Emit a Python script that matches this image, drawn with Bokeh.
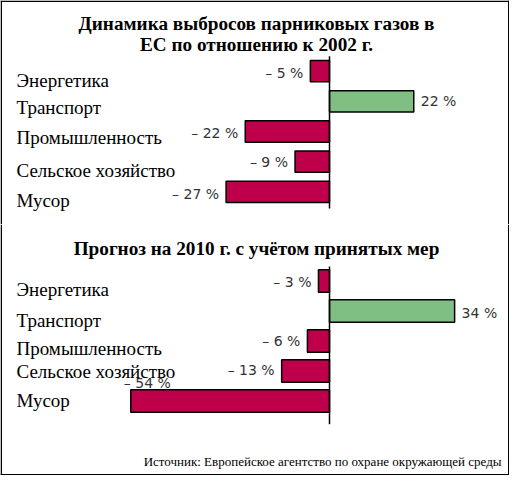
from bokeh.plotting import figure
from bokeh.models import ColumnDataSource, Range1d, Label, Span
from bokeh.layouts import column
from bokeh.embed import file_html
from bokeh.resources import INLINE
from bokeh.core.properties import value

# ---------------- data ----------------
categories = ["Энергетика", "Транспорт", "Промышленность", "Сельское хозяйство", "Мусор"]
change_2002 = [-5, 22, -22, -9, -27]        # % change vs 2002
forecast_2010 = [-3, 34, -6, -13, -54]      # % forecast for 2010
title_2002 = ["Динамика выбросов парниковых газов в", "ЕС по отношению к 2002 г."]
title_2010 = ["Прогноз на 2010 г. с учётом принятых мер"]
source_text = "Источник: Европейское агентство по охране окружающей среды"

# ---------------- style ----------------
RED = "#BE004A"
GREEN = "#80BF84"
W = 509
SERIF = "Liberation Serif"
SANS = "DejaVu Sans"


def fmt(v):
    return f"– {abs(v)} %" if v < 0 else f"{v} %"


def panel(values, height, zero_px, px_pct, first_px, row_px, bar_px,
          axis_px, titles, cat_dy, val_dy, val_above, borders):
    n = len(values)
    x0 = -zero_px / px_pct
    x1 = (W - zero_px) / px_pct
    y_top = -first_px / row_px
    y_bot = y_top + height / row_px
    p = figure(width=W, height=height, x_range=Range1d(x0, x1),
               y_range=Range1d(y_bot, y_top),
               x_axis_location=None, y_axis_location=None,
               min_border=0, toolbar_location=None, output_backend="svg",
               outline_line_color=None, background_fill_color="white",
               border_fill_color="white")
    p.grid.visible = False

    rows = list(range(n))
    aligns, dxs = [], []
    for v, above in zip(values, val_above):
        if above:
            aligns.append("left"); dxs.append(-7)
        elif v < 0:
            aligns.append("right"); dxs.append(-7)
        else:
            aligns.append("left"); dxs.append(7)
    src = ColumnDataSource(dict(
        row=rows, value=values, cat=categories,
        color=[RED if v < 0 else GREEN for v in values],
        vlabel=[fmt(v) for v in values],
        valign=aligns, vdx=dxs, vdy=val_dy, cdy=cat_dy,
    ))
    p.hbar(y="row", left=0, right="value", height=bar_px / row_px,
           fill_color="color", line_color="black", line_width=1.5, source=src)

    ya = y_top + axis_px[0] / row_px
    yb = y_top + axis_px[1] / row_px
    p.segment(x0=0, y0=ya, x1=0, y1=yb, line_color="black", line_width=1.5)

    p.text(x=x0, y="row", text="cat", x_offset=16, y_offset="cdy",
           text_baseline="alphabetic", text_align="left",
           text_font=value(SERIF), text_font_size="19px",
           text_color="black", source=src)
    p.text(x="value", y="row", text="vlabel", x_offset="vdx", y_offset="vdy",
           text_baseline="middle", text_align="valign",
           text_font=value(SANS), text_font_size="14px",
           text_color="#333333", source=src)

    for txt, base in titles:
        p.add_layout(Label(x=256, y=height - base, x_units="screen", y_units="screen",
                           text=txt, text_align="center", text_baseline="alphabetic",
                           text_font=SERIF, text_font_style="bold",
                           text_font_size="19.2px", text_color="black"))
    for dim, loc in borders:
        p.add_layout(Span(location=loc, location_units="screen", dimension=dim,
                          line_color="black", line_width=1.5))
    return p


H1 = 224
H2 = 251
top = panel(change_2002, H1, 329, 3.83, 70.6, 30.2, 21.3, (55.8, 208),
            list(zip(title_2002, [23.2, 43.5])),
            [9.5, 6.5, 6, 8.7, 8.7], [2, 0, 1, 0, 2], [False] * 5,
            [("height", 0.75), ("height", W - 0.75), ("width", H1 - 0.75)])
bottom = panel(forecast_2010, H2, 329, 3.68, 56.5, 30, 22.3, (42, 199.7),
               list(zip(title_2010, [24.3])),
               [8, 9.7, 7, 0.5, -0.7], [1, 2, 0, -1, -17.7],
               [False, False, False, False, True],
               [("height", 0.75), ("height", W - 0.75), ("width", 0.75)])
bottom.add_layout(Label(x=501, y=13.8, x_units="screen", y_units="screen",
                        text=source_text, text_align="right", text_baseline="alphabetic",
                        text_font=SERIF, text_font_size="13px", text_color="black"))

layout = column(top, bottom, spacing=0)
open("out.html", "w").write(file_html(layout, INLINE))
